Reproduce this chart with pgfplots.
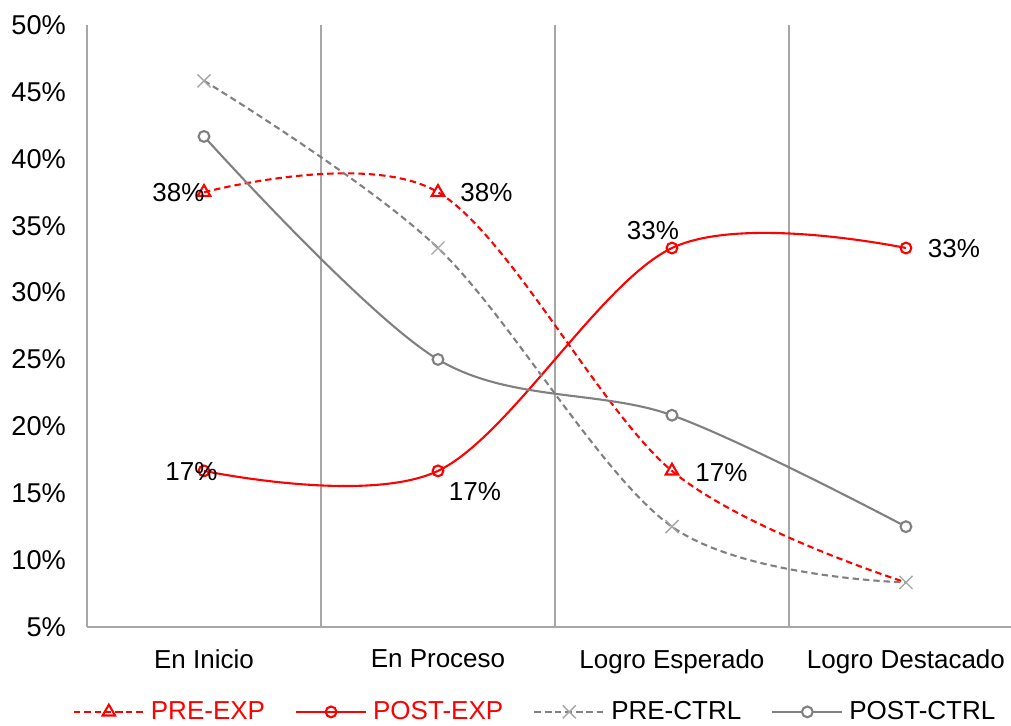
\documentclass[border=0pt]{standalone}
\usepackage{pgfplots}
\pgfplotsset{compat=1.18}
\usepackage{pgfplotstable}
\usepackage{fontspec}
\setmainfont{Liberation Sans}

\definecolor{gridgray}{RGB}{166,166,166}
\definecolor{ctrlgray}{RGB}{128,128,128}
\definecolor{markgray}{RGB}{166,166,166}

% x = category index, y = percentage, dx/dy = label offset in pt
\pgfplotstableread{
x y dx dy
0 37.5 -12.75 0
1 37.5 24.25 0
2 16.67 24.75 -1
3 8.33 20.75 0
}\preexp
\pgfplotstableread{
x y dx dy
0 16.67 -6.25 -0.5
1 16.67 18.5 -10.5
2 33.33 -9.5 8.5
3 33.33 24 -0.5
}\postexp
\pgfplotstableread{
x y
0 45.83
1 33.33
2 12.5
3 8.33
}\prectrl
\pgfplotstableread{
x y
0 41.67
1 25
2 20.83
3 12.5
}\postctrl

\newcommand{\chartfont}{\fontsize{13}{15}\selectfont}
\newcommand{\yfont}{\fontsize{13.6}{16}\selectfont}

\pgfplotsset{
  valuelabels/.style={
    visualization depends on={\thisrow{dx} \as \labdx},
    visualization depends on={\thisrow{dy} \as \labdy},
    nodes near coords={\pgfmathprintnumber[fixed,precision=0]{\pgfplotspointmeta}\%},
    every node near coord/.append style={text=black, font=\chartfont,
      anchor=center, xshift=\labdx pt, yshift=\labdy pt},
  },
}

\begin{document}
\begin{tikzpicture}
\begin{axis}[
  at={(0,0)}, anchor=south west,
  scale only axis, width=462pt, height=301pt,
  xmin=-0.5, xmax=3.449, ymin=5, ymax=50,
  clip=false,
  axis x line*=bottom, axis y line*=left,
  axis line style={gridgray, line width=1pt, -},
  xtick={0,1,2,3},
  xticklabels={En Inicio, En Proceso, Logro Esperado, Logro Destacado},
  minor xtick={0.5,1.5,2.5},
  xminorgrids,
  minor grid style={gridgray, line width=1pt},
  major tick length=0pt, minor tick length=0pt,
  ytick={5,10,15,20,25,30,35,40,45,50},
  yticklabel={\pgfmathprintnumber{\tick}\%},
  /pgf/number format/assume math mode=true,
  tick label style={black},
  xticklabel style={font=\chartfont, yshift=-8pt},
  yticklabel style={font=\yfont, xshift=-7pt},
  legend columns=4,
  legend style={draw=none, fill=none, at={(0.486,-0.141)}, anchor=center,
    font=\chartfont,
    /tikz/every even column/.append style={column sep=13pt},
    /tikz/every odd column/.append style={column sep=1pt}},
  legend image code/.code={
    \draw[mark indices={2}] plot coordinates {(0pt,0pt) (17.5pt,0pt) (35pt,0pt)};
  },
  every axis plot/.append style={smooth, tension=0.55, line width=1.05pt},
]
\addplot[red, dash pattern=on 3.2pt off 2pt, mark=triangle, mark size=3.6pt,
  mark indices={1,2,3},
  mark options={solid, fill=white, draw=red}, valuelabels]
  table[x=x, y=y] {\preexp};
\addlegendentry{\textcolor{red}{PRE-EXP}}

\addplot[red, mark=o, mark size=2.7pt,
  mark options={solid, fill=white, draw=red}, valuelabels]
  table[x=x, y=y] {\postexp};
\addlegendentry{\textcolor{red}{POST-EXP}}

\addplot[ctrlgray, dash pattern=on 3.2pt off 2pt, mark=x, mark size=4.6pt,
  mark options={solid, draw=markgray, line width=0.7pt}]
  table[x=x, y=y] {\prectrl};
\addlegendentry{PRE-CTRL}

\addplot[ctrlgray, mark=*, mark size=2.7pt,
  mark options={solid, fill=white, draw=ctrlgray}]
  table[x=x, y=y] {\postctrl};
\addlegendentry{POST-CTRL}
\end{axis}
\pgfresetboundingbox
\path[use as bounding box] (-43.5pt,-49pt) rectangle (462pt,313.5pt);
\end{tikzpicture}
\end{document}
